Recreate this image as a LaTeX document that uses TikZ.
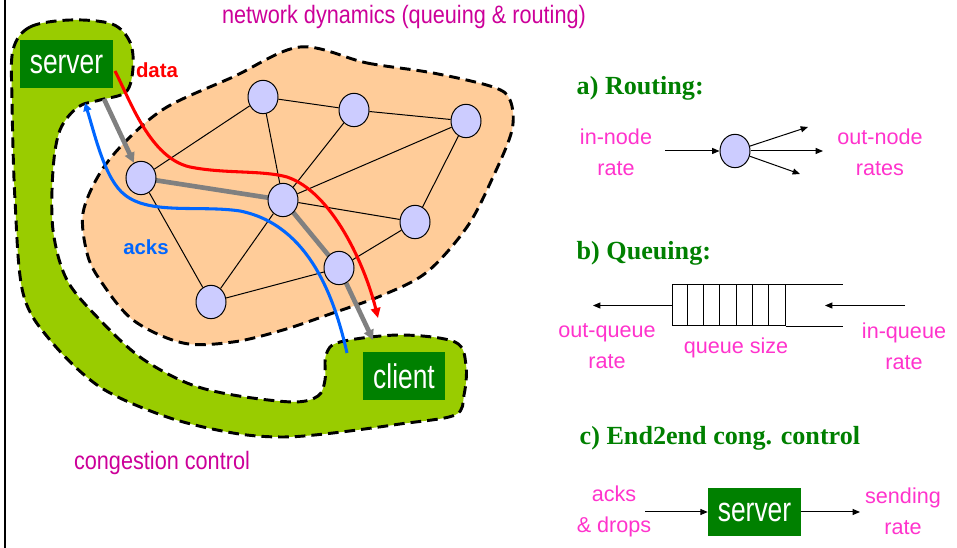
\documentclass[tikz,border=0pt]{standalone}
\usepackage{fontspec}
\setmainfont{Liberation Sans}
\newfontfamily\titlefont{Liberation Serif}
\newfontfamily\hostfont[FakeStretch=0.77]{Liberation Sans}
\newfontfamily\capfont[FakeStretch=0.86]{Liberation Sans}
\usepackage{xcolor}
\definecolor{ccgreen}{HTML}{99CC00}
\definecolor{boxgreen}{HTML}{008000}
\definecolor{netorange}{HTML}{FFCC99}
\definecolor{nodeblue}{HTML}{CCCCFF}
\definecolor{labelpink}{HTML}{FF33CC}
\definecolor{darkpink}{HTML}{CC0099}
\definecolor{ackblue}{HTML}{0066FF}
\usepackage{tikz}
\usetikzlibrary{arrows.meta,shapes.geometric,backgrounds}

\begin{document}
\begin{tikzpicture}[
  x=0.75pt,y=-0.75pt,
  router/.style={ellipse,draw,fill=nodeblue,line width=0.75pt,minimum width=22.5pt,minimum height=25pt,inner sep=0pt},
  host/.style={rectangle,fill=boxgreen,text=white,inner sep=0pt,minimum height=36pt,font=\hostfont\fontsize{25.7}{28}\selectfont},
  lbl/.style={text=labelpink,align=center,font=\fontsize{16.2}{23.3}\selectfont},
  caption/.style={text=darkpink,font=\capfont\fontsize{18.9}{21}\selectfont},
  heading/.style={anchor=west,text=boxgreen,font=\titlefont\bfseries\fontsize{19.6}{22}\selectfont},
  region/.style={draw=black,line width=2.2pt,dash pattern=on 8pt off 4.5pt},
  link/.style={line width=0.75pt},
  arr/.style={-{Triangle[length=5.5pt,width=4.5pt]},line width=0.75pt},
  flow/.style={line width=2.3pt,-{Triangle[length=7.5pt,width=7pt]}},
  pipe/.style={draw=gray,line width=3.5pt},
]
\useasboundingbox (0,0) rectangle (957,548);
\draw[line width=1.6pt] (5,0) -- (5,548);

% Regions
\begin{scope}[on background layer]
\draw[region,fill=ccgreen] plot[smooth cycle,tension=0.55] coordinates {
  (13,50) (30,27) (70,20) (112,24) (130,42) (133,68) (126,92) (100,100)
  (78,107) (60,130) (53,170) (53,230) (67,280) (100,320) (140,357) (187,383)
  (233,395) (293,402) (318,396) (325,380) (326,355) (340,342) (400,335)
  (455,342) (466,365) (464,395) (455,415) (400,424) (333,433) (283,437)
  (233,433) (167,417) (100,387) (50,340) (23,293) (15,200) (12,100)};
\draw[region,fill=netorange] plot[smooth cycle,tension=0.55] coordinates {
  (300,47) (367,63) (433,73) (493,87) (510,100) (512,130) (493,177) (467,227)
  (427,272) (383,295) (333,313) (283,330) (233,342) (183,343) (133,320)
  (100,280) (87,253) (83,213) (100,173) (127,140) (167,107) (233,77)};
\end{scope}

% Network
\node[router] (n1) at (141,178) {};
\node[router] (n2) at (263,97) {};
\node[router] (n3) at (354,110) {};
\node[router] (n4) at (466,121) {};
\node[router] (n5) at (283,200) {};
\node[router] (n6) at (415,222) {};
\node[router] (n7) at (339,268) {};
\node[router] (n8) at (211,302) {};

\node[host,minimum width=69.75pt] (server) at (66.5,64) {server};
\node[host,minimum width=61.5pt] (client) at (404,376) {client};

\node[caption] (netdyn) at (404,17) {network dynamics (queuing \& routing)};
\node[caption] (cclabel) at (162,463) {congestion control};
\node[text=red,font=\bfseries\fontsize{15.3}{18}\selectfont] (datalbl) at (157,70) {data};
\node[text=ackblue,font=\bfseries\fontsize{15.3}{18}\selectfont] (ackslbl) at (146,247) {acks};

\coordinate (dS) at (115,71);
\coordinate (dE) at (378,318);
\coordinate (aS) at (347,353);
\coordinate (aE) at (85,103);
\coordinate (gS) at (104,99);
\coordinate (gE) at (373,340);

\begin{scope}[on background layer]
\foreach \a/\b in {n1/n2,n1/n8,n2/n3,n2/n5,n3/n4,n3/n5,n4/n5,n4/n6,n5/n6,n5/n8,n6/n7,n7/n8}
  \draw[link] (\a) -- (\b);
\draw[pipe,-{Triangle[length=7.5pt,width=7.5pt]}] (gS) -- (n1);
\draw[pipe] (n1.center) -- (n5.center) -- (n7.center);
\draw[pipe,-{Triangle[length=7.5pt,width=7.5pt]}] (n7) -- (gE);
\draw[flow,red] (dS) .. controls (130,100) and (150,158) .. (190,167)
  .. controls (225,174) and (262,170) .. (287,177)
  .. controls (332,192) and (365,265) .. (dE);
\draw[flow,ackblue,-{Triangle[length=6pt,width=6pt]}] (aS) .. controls (335,300) and (310,225) .. (240,211)
  .. controls (200,205) and (150,215) .. (125,195)
  .. controls (105,180) and (95,135) .. (aE);
\end{scope}

% a) Routing
\node[heading] (ta) at (572,88) {a) Routing:};
\node[router] (r0) at (735,151) {};
\node[lbl] (inrate) at (616,152) {in-node\\rate};
\node[lbl] (outrate) at (880,152) {out-node\\rates};
\coordinate (rin) at (665,151);
\coordinate (ro1) at (808,127);
\coordinate (ro2) at (823,151);
\coordinate (ro3) at (800,174);
\draw[arr] (rin) -- (r0);
\foreach \i in {1,2,3}
  \draw[arr] (r0) -- (ro\i);

% b) Queuing
\node[heading] (tb) at (572,253) {b) Queuing:};
\node[draw,line width=0.75pt,minimum width=84.75pt,minimum height=30.75pt,inner sep=0pt] (queue) at (728.5,305.5) {};
\foreach \k in {1,...,6}
  \draw[link] ([xshift=\k*12.1pt]queue.north west) -- ([xshift=\k*12.1pt]queue.south west);
\draw[link] (queue.north east) -- ++(57,0);
\draw[link] (queue.south east) -- ++(57,0);
\coordinate (qout) at (593,305.5);
\coordinate (qin) at (905,305.5);
\coordinate (qtip) at (825,305.5);
\draw[arr] (queue.west) -- (qout);
\draw[arr] (qin) -- (qtip);
\node[lbl] (outq) at (607,346) {out-queue\\rate};
\node[lbl] (qsize) at (736,348) {queue size};
\node[lbl] (inq) at (904,346) {in-queue\\rate};

% c) End2end
\node[heading] (tc) at (575,438) {c) End2end cong. control};
\node[host,minimum width=69.75pt] (srv) at (754.5,512) {server};
\node[lbl] (drops) at (614,511) {acks\\\& drops};
\node[lbl] (sendrate) at (903,511) {sending\\rate};
\coordinate (cin) at (645,512);
\coordinate (cout) at (860,512);
\draw[arr] (cin) -- (srv);
\draw[arr] (srv) -- (cout);
\end{tikzpicture}
\end{document}
